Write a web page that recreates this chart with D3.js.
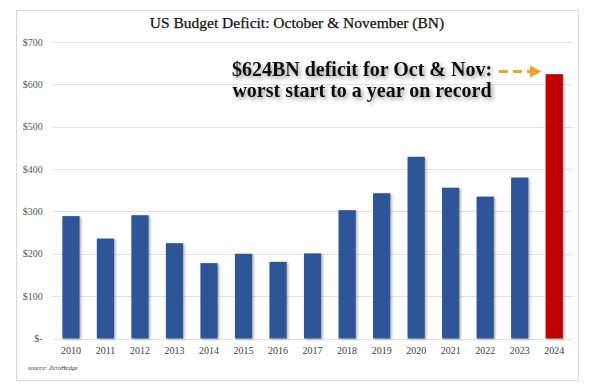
<!DOCTYPE html>
<html>
<head>
<meta charset="utf-8">
<script src="https://cdn.jsdelivr.net/npm/d3@7"></script>
<style>
  body { margin: 0; background: #fff; }
  svg { display: block; }
</style>
</head>
<body>
<div id="chart-area"></div>
<script>

// Data
var years = ["2010","2011","2012","2013","2014","2015","2016","2017","2018","2019","2020","2021","2022","2023","2024"];
var deficits = [289, 236, 291, 225, 178, 200, 181, 201, 303, 343, 429, 356, 335, 380, 624];
var yTicks = [0, 100, 200, 300, 400, 500, 600, 700];

var data = years.map(function(y, i){ return {year: y, value: deficits[i]}; });

// SVG drawing area
var W = 593, H = 388;
var margin = {top: 42, right: 20, bottom: 49.5, left: 53.7};
var width = 571.5 - margin.left;
var height = 338.5 - margin.top;

var svg = d3.select("#chart-area").append("svg")
	.attr("width", W)
	.attr("height", H);

// drop shadow for bars / annotation
var defs = svg.append("defs");
var f = defs.append("filter").attr("id", "shadow")
	.attr("x", "-20%").attr("y", "-5%").attr("width", "150%").attr("height", "115%");
f.append("feDropShadow").attr("dx", 1.5).attr("dy", 1).attr("stdDeviation", 0.8)
	.attr("flood-color", "#000").attr("flood-opacity", 0.3);

var ts = defs.append("filter").attr("id", "textshadow")
	.attr("x", "-5%").attr("y", "-30%").attr("width", "115%").attr("height", "170%");
ts.append("feDropShadow").attr("dx", 2).attr("dy", 2.5).attr("stdDeviation", 2)
	.attr("flood-color", "#000").attr("flood-opacity", 0.4);

defs.append("marker").attr("id", "arrow")
	.attr("viewBox", "0 0 10 10").attr("refX", 9).attr("refY", 5)
	.attr("markerWidth", 4).attr("markerHeight", 4).attr("orient", "auto")
	.append("path").attr("d", "M0,0 L10,5 L0,10 z").attr("fill", "#F2A12B");

// outer frame
svg.append("rect")
	.attr("x", 16.5).attr("y", 10.5)
	.attr("width", 562).attr("height", 370)
	.attr("fill", "none").attr("stroke", "#d9d9d9").attr("stroke-width", 1);

var g = svg.append("g")
	.attr("transform", "translate(" + margin.left + "," + margin.top + ")");

// Scales
var x = d3.scaleBand()
	.domain(years)
	.range([0, width])
	.paddingInner(0.5)
	.paddingOuter(0.25);

var y = d3.scaleLinear()
	.domain([0, 700])
	.range([height, 0]);

// gridlines
g.selectAll(".grid").data(yTicks).enter().append("line")
	.attr("class", "grid")
	.attr("x1", -1).attr("x2", width + 1)
	.attr("y1", function(d){ return Math.round(y(d)) + 0.5; })
	.attr("y2", function(d){ return Math.round(y(d)) + 0.5; })
	.attr("stroke", "#e3e3e3").attr("stroke-width", 1);

// Y axis
var yAxis = d3.axisLeft(y)
	.tickValues(yTicks)
	.tickSize(0)
	.tickPadding(11)
	.tickFormat(function(d){ return d === 0 ? "$-" : "$" + d; });

var yAxisGroup = g.append("g").attr("class", "y axis").call(yAxis);
yAxisGroup.select(".domain").remove();
yAxisGroup.selectAll("text")
	.attr("font-family", "Liberation Serif, serif")
	.attr("font-size", 10)
	.attr("fill", "#595959");

// X axis
var xAxis = d3.axisBottom(x).tickSize(0).tickPadding(8);
var xAxisGroup = g.append("g")
	.attr("class", "x axis")
	.attr("transform", "translate(0," + height + ")")
	.call(xAxis);
xAxisGroup.select(".domain").remove();
xAxisGroup.selectAll("text")
	.attr("font-family", "Liberation Serif, serif")
	.attr("font-size", 10)
	.attr("fill", "#404040");

// Bars
g.selectAll(".bar").data(data).enter().append("rect")
	.attr("class", "bar")
	.attr("x", function(d){ return x(d.year); })
	.attr("y", function(d){ return y(d.value); })
	.attr("width", x.bandwidth())
	.attr("height", function(d){ return height - y(d.value); })
	.attr("fill", function(d){ return d.year === "2024" ? "#C00000" : "#2F5597"; })
	.attr("filter", "url(#shadow)");

// Title
svg.append("text")
	.attr("x", 297).attr("y", 28)
	.attr("text-anchor", "middle")
	.attr("font-family", "Liberation Serif, serif")
	.attr("font-size", 15.5)
	.attr("fill", "#111")
	.attr("stroke", "#111").attr("stroke-width", 0.25)
	.text("US Budget Deficit: October & November (BN)");

// Annotation
var note = svg.append("g").attr("filter", "url(#textshadow)");
note.append("text")
	.attr("x", 362).attr("y", 76)
	.attr("text-anchor", "middle")
	.attr("font-family", "Liberation Serif, serif")
	.attr("font-size", 20)
	.attr("font-weight", "bold")
	.attr("fill", "#111")
	.text("$624BN deficit for Oct & Nov:");
note.append("text")
	.attr("x", 362).attr("y", 97)
	.attr("text-anchor", "middle")
	.attr("font-family", "Liberation Serif, serif")
	.attr("font-size", 20)
	.attr("font-weight", "bold")
	.attr("fill", "#111")
	.text("worst start to a year on record");

// arrow to the 2024 bar
var last = data[data.length - 1];
svg.append("line")
	.attr("x1", 499)
	.attr("y1", 71.5)
	.attr("x2", margin.left + x(last.year) - 5)
	.attr("y2", 71.5)
	.attr("stroke", "#F2A12B")
	.attr("stroke-width", 3)
	.attr("stroke-dasharray", "9,5")
	.attr("marker-end", "url(#arrow)");

// Source
svg.append("text")
	.attr("x", 28).attr("y", 370)
	.attr("font-family", "Liberation Serif, serif")
	.attr("font-size", 6.5)
	.attr("font-style", "italic")
	.attr("fill", "#404040")
	.text("source: ZeroHedge");

</script>
</body>
</html>
